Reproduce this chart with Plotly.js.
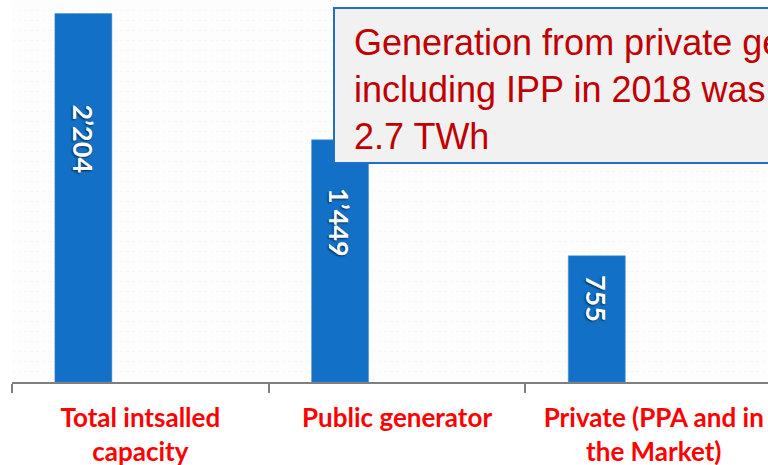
<!DOCTYPE html>
<html>
<head>
<meta charset="utf-8">
<script src="https://cdn.plot.ly/plotly-3.0.1.min.js"></script>
<style>html,body{margin:0;padding:0;background:#fff;overflow:hidden}#chart{width:768px;height:465px}</style>
</head>
<body>
<div id="chart"></div>
<script>
const categories = ["Total intsalled<br>capacity", "Public generator", "Private (PPA and in<br>the Market)"];
const values = [2204, 1449, 755];
const valueLabels = ["2’204", "1’449", "755"];
const noteText = "Generation from private generation<br>including IPP in 2018 was<br>2.7 TWh";

const barWidth = 0.222, barOffset = -0.333;

const trace = {
  type: 'bar',
  x: categories,
  y: values,
  width: barWidth,
  offset: barOffset,
  marker: {color: '#1270c6', line: {color: '#4d8fd6', width: 0.5}},
  hoverinfo: 'skip'
};

const labelAnns = values.map((v, i) => ({
  x: i + barOffset + barWidth / 2,
  y: v * 0.66,
  xref: 'x', yref: 'y',
  text: '<b>' + valueLabels[i] + '</b>',
  showarrow: false,
  textangle: 90,
  font: {family: 'Lato, "Open Sans", sans-serif', size: 27, color: '#ffffff', shadow: '1px 1px 2px rgba(0,0,0,0.6)'}
}));

const layout = {
  width: 768, height: 465,
  margin: {l: 12, r: 0, t: 0, b: 83},
  paper_bgcolor: '#ffffff',
  plot_bgcolor: '#fdfdfd',
  showlegend: false,
  xaxis: {
    type: 'category',
    range: [-0.5, 2.445],
    tickvals: categories,
    ticktext: categories.map(c => '<b>' + c + '</b>'),
    tickson: 'boundaries',
    ticks: 'outside', ticklen: 9, tickwidth: 2, tickcolor: '#7f7f7f',
    ticklabelstandoff: 12,
    showline: true, linecolor: '#7f7f7f', linewidth: 2,
    showgrid: false, zeroline: false,
    tickfont: {family: 'Lato, "Open Sans", sans-serif', size: 26, color: '#ff0000'}
  },
  yaxis: {
    range: [0, 2285],
    showticklabels: false, ticks: '',
    showgrid: true, gridcolor: '#f7f7f7', griddash: 'dot', dtick: 60,
    zeroline: false, showline: false
  },
  shapes: [{
    type: 'rect', xref: 'paper', yref: 'paper',
    x0: (334 - 12) / 756, x1: 1.05,
    y0: (382 - 163) / 382, y1: (382 - 8) / 382,
    fillcolor: '#f1f1f1', line: {color: '#1f6fc5', width: 2}, layer: 'above'
  }],
  annotations: labelAnns.concat([{
    xref: 'paper', yref: 'paper',
    x: (352 - 12) / 756, y: (382 - 20) / 382,
    xanchor: 'left', yanchor: 'top', align: 'left',
    text: noteText, showarrow: false,
    font: {family: '"Liberation Sans", Arial, sans-serif', size: 36, color: '#c00000'}
  }])
};

Plotly.newPlot('chart', [trace], layout, {displayModeBar: false, staticPlot: true});
</script>
</body>
</html>
